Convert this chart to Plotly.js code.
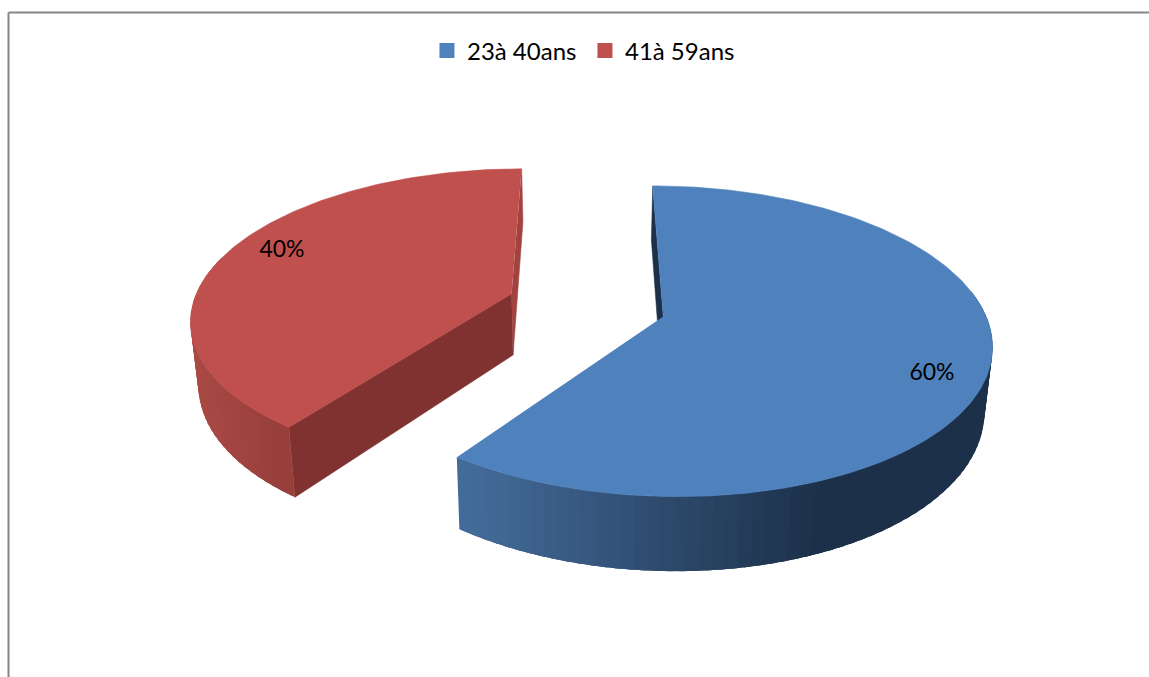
<!DOCTYPE html>
<html>
<head>
<meta charset="utf-8">
<script src="https://cdn.plot.ly/plotly-3.0.1.min.js"></script>
<style>html,body{margin:0;padding:0;background:#fff;overflow:hidden}#chart{width:1149px;height:677px}</style>
</head>
<body>
<div id="chart"></div>
<script>
var categories = ["23à 40ans", "41à 59ans"];
var shares = [60, 40];
var topColors = ["#4F81BD", "#C0504D"];
var cutColors = ["#1C3049", "#7F322F"];
var innerColors = ["#1C3049", "#A3433F"];
var wallFrom = [[68, 108, 155], [170, 74, 69]];
var wallTo = [[28, 48, 73], [150, 62, 58]];
var wallSpan = [[456, 810], [190, 295]];
var labelPositions = [[932, 374], [282, 251]];

var vx = 586.5, cy = 305, A = 319, B = 147.8, k = 0.157, depth = 62, explode = 0.25, taper = 0.98;
function rad(d) { return d * Math.PI / 180; }
function proj(X, Z, low) {
  var p = 1 / (1 - k * Z);
  var x = vx + A * X * p, y = cy + B * Z * p;
  if (low) { x = vx + (x - vx) * taper; y += depth * p; }
  return [x, y];
}
function poly(pts, color, w) {
  return {
    type: "scatter", mode: "lines", fill: "toself", fillcolor: color,
    x: pts.map(function (p) { return p[0]; }), y: pts.map(function (p) { return p[1]; }),
    line: {color: color, width: w === undefined ? 0.6 : w}, showlegend: false, hoverinfo: "skip"
  };
}
var total = shares.reduce(function (a, b) { return a + b; }, 0);
var slices = [], acc = 0;
shares.forEach(function (s, i) {
  var a0 = acc / total * 360, a1 = (acc + s) / total * 360;
  var mid = rad((a0 + a1) / 2);
  slices.push({a0: a0, a1: a1, ex: explode * Math.sin(mid), ez: -explode * Math.cos(mid), i: i});
  acc += s;
});
function rim(sl, t, low) { return proj(Math.sin(rad(t)) + sl.ex, -Math.cos(rad(t)) + sl.ez, low); }
function apex(sl, low) { return proj(sl.ex, sl.ez, low); }
function mix(c0, c1, f) {
  f = Math.max(0, Math.min(1, f));
  return "rgb(" + c0.map(function (c, j) { return Math.round(c + (c1[j] - c) * f); }).join(",") + ")";
}
function sliceTraces(sl) {
  var out = [], i = sl.i;
  var backAngle = i === 0 ? sl.a0 : sl.a1;
  out.push(poly([rim(sl, backAngle), rim(sl, backAngle, true), apex(sl, true), apex(sl)], innerColors[i]));
  if (i === 1) out.push(poly([apex(sl), rim(sl, sl.a0), rim(sl, sl.a0, true), apex(sl, true)], cutColors[i]));
  var from = i === 0 ? 80 : sl.a0, to = i === 0 ? sl.a1 : 285, step = 2;
  var angles = [];
  for (var t = from; t < to; t += step) angles.push(t);
  if (i === 1) angles.reverse();
  angles.forEach(function (t) {
    var t2 = Math.min(t + step + 1.5, to), t1 = Math.max(t - 1.5, from);
    var p = rim(sl, t), q = rim(sl, Math.min(t + step, to));
    var f = ((p[0] + q[0]) / 2 - wallSpan[i][0]) / (wallSpan[i][1] - wallSpan[i][0]);
    out.push(poly([rim(sl, t1), rim(sl, t2), rim(sl, t2, true), rim(sl, t1, true)], mix(wallFrom[i], wallTo[i], f), 0));
  });
  var pts = [apex(sl)];
  for (var a = sl.a0; a <= sl.a1 + 1e-6; a += 1) pts.push(rim(sl, a));
  out.push(poly(pts, topColors[i]));
  return out;
}
var traces = [];
traces = traces.concat(sliceTraces(slices[1]));
traces = traces.concat(sliceTraces(slices[0]));
categories.forEach(function (name, i) {
  traces.push({
    type: "scatter", mode: "markers", name: name, x: [-100], y: [-100],
    marker: {symbol: "square", size: 15, color: topColors[i]}, hoverinfo: "skip"
  });
});
traces.push({
  type: "scatter", mode: "text", showlegend: false, hoverinfo: "skip",
  x: labelPositions.map(function (p) { return p[0]; }),
  y: labelPositions.map(function (p) { return p[1]; }),
  text: shares.map(function (s) { return Math.round(s / total * 100) + "%"; }),
  textposition: "middle center",
  textfont: {family: "Lato, sans-serif", size: 23, color: "#000"}
});
var layout = {
  width: 1149, height: 677, margin: {l: 0, r: 0, t: 0, b: 0},
  paper_bgcolor: "#fff", plot_bgcolor: "#fff",
  xaxis: {range: [0, 1149], visible: false, fixedrange: true},
  yaxis: {range: [677, 0], visible: false, fixedrange: true},
  font: {family: "Lato, sans-serif", size: 24, color: "#000"},
  legend: {orientation: "h", x: 0.5091, xanchor: "center", y: 0.958, yanchor: "top",
           itemwidth: 30, tracegroupgap: 0, bgcolor: "rgba(0,0,0,0)",
           entrywidth: 113, entrywidthmode: "pixels",
           font: {family: "Lato, sans-serif", size: 24, color: "#000"}},
  shapes: [
    {type: "line", xref: "paper", yref: "paper", x0: 8.5 / 1149, x1: 8.5 / 1149, y0: 0, y1: 1 - 12.5 / 677, line: {color: "#868686", width: 2}},
    {type: "line", xref: "paper", yref: "paper", x0: 8.5 / 1149, x1: 1, y0: 1 - 12.5 / 677, y1: 1 - 12.5 / 677, line: {color: "#868686", width: 2}}
  ]
};
Plotly.newPlot("chart", traces, layout, {displayModeBar: false, staticPlot: true});
</script>
</body>
</html>
